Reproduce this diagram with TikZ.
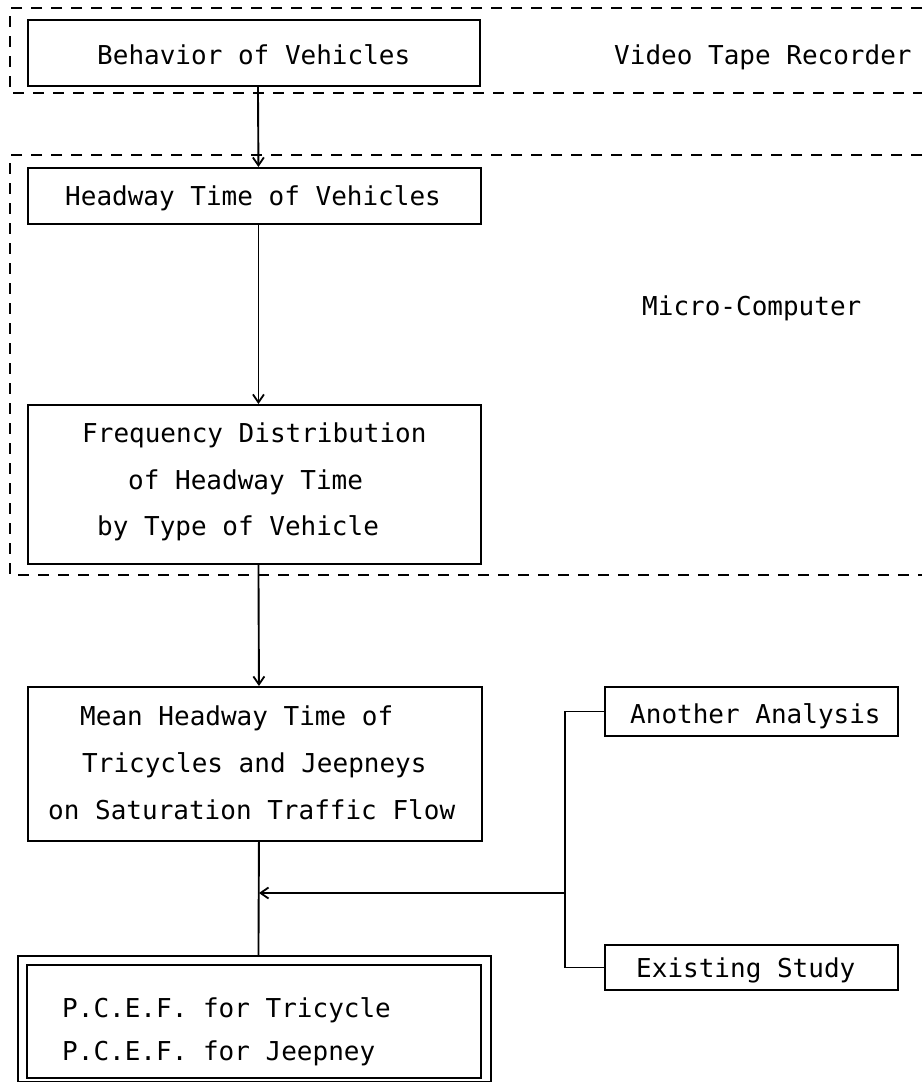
\documentclass[tikz,border=0pt]{standalone}
\usepackage{fontspec}
\newfontfamily\tw{DejaVu Sans Mono}
\usetikzlibrary{arrows.meta}
\begin{document}
\begin{tikzpicture}[x=1pt,y=-1pt,
  box/.style={draw,line width=1.9pt,rectangle,inner sep=0pt,anchor=north west},
  txt/.style={anchor=base west,inner sep=0pt,font=\tw\fontsize{26}{26}\selectfont},
  region/.style={line width=1.7pt,dash pattern=on 11pt off 9pt},
  conn/.style={line width=1.9pt},
  arr/.style={line width=1.9pt,-{Straight Barb[length=8pt,width=11pt,line width=1.8pt]}}]
\useasboundingbox (0,0) rectangle (922,1082);
% dashed regions
\draw[region] (922,8) -- (10,8) -- (10,93) -- (922,93);
\draw[region] (922,155) -- (10,155) -- (10,575) -- (922,575);
% boxes
\node[box,minimum width=452pt,minimum height=66pt] (b1) at (27,19) {};
\node[box,minimum width=453pt,minimum height=56pt] (b2) at (27,167) {};
\node[box,minimum width=453pt,minimum height=159pt] (b3) at (27,404) {};
\node[box,minimum width=454pt,minimum height=154pt] (b4) at (27,686) {};
\node[box,minimum width=473pt,minimum height=126pt] (b5o) at (17,955) {};
\node[box,minimum width=454pt,minimum height=113pt] (b5i) at (26,964) {};
\node[box,minimum width=293pt,minimum height=49pt] (aa) at (604,686) {};
\node[box,minimum width=293pt,minimum height=45pt] (es) at (604,944) {};
% texts
\node[txt] (t1) at (97,64) {Behavior of Vehicles};
\node[txt] (tvtr) at (614,64) {Video Tape Recorder};
\node[txt] (t2) at (65,205) {Headway Time of Vehicles};
\node[txt] (tmc) at (642,315) {Micro-Computer};
\node[txt] (t3a) at (82,442) {Frequency Distribution};
\node[txt] (t3b) at (128,489) {of Headway Time};
\node[txt] (t3c) at (97,535) {by Type of Vehicle};
\node[txt] (t4a) at (80,725) {Mean Headway Time of};
\node[txt] (t4b) at (82,772) {Tricycles and Jeepneys};
\node[txt] (t4c) at (48,819) {on Saturation Traffic Flow};
\node[txt] (t5a) at (62,1017) {P.C.E.F. for Tricycle};
\node[txt] (t5b) at (62,1060) {P.C.E.F. for Jeepney};
\node[txt] (taa) at (630,723) {Another Analysis};
\node[txt] (tes) at (636,977) {Existing Study};
% connectors
\coordinate (j) at (565,893);
\draw[arr] ([xshift=4pt]b1.south) -- ([xshift=4pt]b2.north);
\draw[arr] ([xshift=4pt]b2.south) -- ([xshift=4pt]b3.north);
\draw[arr] ([xshift=4pt]b3.south) -- ([xshift=4pt]b4.north);
\draw[conn] ([xshift=4pt]b4.south) -- ([xshift=4pt]b5o.north);
\draw[conn] (aa.west) -| (j);
\draw[conn] (es.west) -| (j);
\draw[arr] (j) -- ([xshift=4pt]b4.south |- j);
\end{tikzpicture}
\end{document}
